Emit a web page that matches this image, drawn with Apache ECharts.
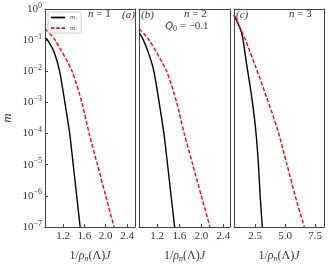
<!DOCTYPE html>
<html><head><meta charset="utf-8">
<script src="https://cdn.jsdelivr.net/npm/echarts@6/dist/echarts.min.js"></script>
<style>html,body{margin:0;padding:0;background:#fff}#c{width:330px;height:268px}</style>
</head><body><div id="c"></div>
<script>
// Panel (a) n=1
const blackA = [[0.865,0.12],[0.91,0.1],[1.03,0.042],[1.135,0.01],[1.233,1e-3],[1.324,1e-4],[1.39,1e-5],[1.455,1e-6],[1.52,1e-7]];
const redA   = [[0.865,0.23],[1.05,0.1],[1.368,0.01],[1.552,1e-3],[1.69,1e-4],[1.845,1e-5],[2.0,1e-6],[2.155,1e-7]];
// Panel (b) n=2
const blackB = [[0.875,0.17],[0.95,0.1],[1.05,0.035],[1.14,0.01],[1.235,1e-3],[1.322,1e-4],[1.388,1e-5],[1.452,1e-6],[1.516,1e-7]];
const redB   = [[0.875,0.23],[1.055,0.1],[1.37,0.01],[1.553,1e-3],[1.69,1e-4],[1.845,1e-5],[2.0,1e-6],[2.156,1e-7]];
// Panel (c) n=3
const blackC = [[0.75,0.65],[1.39,0.17],[1.81,0.016],[2.23,1.45e-3],[2.56,1.3e-4],[2.78,1.1e-5],[2.93,1e-6],[3.11,1e-7]];
const redC   = [[0.75,0.65],[1.67,0.11],[2.5,0.016],[3.47,1.45e-3],[4.39,1.3e-4],[5.14,1.1e-5],[5.85,1e-6],[6.61,1e-7]];

const xTicksAB = [1.2,1.6,2.0,2.4];
const xTicksC = [2.5,5.0,7.5];
const panelLabels = ['(a)','(b)','(c)'];
const legendNames = ['m+','m−'];

const SERIF = 'Liberation Serif, DejaVu Serif, serif';
const frame = '#444';
const chart = echarts.init(document.getElementById('c'), null, {renderer:'canvas'});

const grids = [
  {left:44, top:9, width:91, height:224},
  {left:139, top:9, width:91, height:224},
  {left:234, top:9, width:90, height:224}
];
function xAxis(i, min, max, ticks){
  return {
    type:'value', gridIndex:i, min:min, max:max,
    axisLine:{show:true,onZero:false,lineStyle:{color:frame,width:1}},
    axisTick:{show:true,inside:true,length:3,lineStyle:{color:frame},customValues:ticks},
    axisLabel:{fontFamily:SERIF,fontSize:11,color:'#333',margin:4,customValues:ticks,
      formatter:v=>v.toFixed(1)},
    splitLine:{show:false},
    name:'{a|1/}{i|ρ}{s|n}{a|(Λ)}{i|J}', nameLocation:'middle', nameGap:22,
    nameTextStyle:{rich:{
      a:{fontFamily:SERIF,fontSize:12,color:'#333'},
      i:{fontFamily:SERIF,fontSize:12,fontStyle:'italic',color:'#333'},
      s:{fontFamily:SERIF,fontSize:8,fontStyle:'italic',color:'#333',padding:[6,0,0,0]}
    }}
  };
}
const supMap = {'0':'0','1':'−1','2':'−2','3':'−3','4':'−4','5':'−5','6':'−6','7':'−7'};
function yAxis(i, labels){
  return {
    type:'log', logBase:10, gridIndex:i, min:1e-7, max:1, interval:1,
    axisLine:{show:true,lineStyle:{color:frame,width:1}},
    axisTick:{show:labels,inside:true,length:3,lineStyle:{color:frame}},
    axisLabel:{show:labels, margin:3,
      formatter:function(v){const e=Math.round(-Math.log10(v));return '{b|10}{s|'+supMap[String(e)]+'}';},
      rich:{b:{fontFamily:SERIF,fontSize:11,color:'#333'},
            s:{fontFamily:SERIF,fontSize:8,color:'#333',padding:[0,0,7,0]}}},
    splitLine:{show:false},
    name: labels ? 'm' : '', nameLocation:'middle', nameGap:31, nameRotate:90,
    nameTextStyle:{fontFamily:SERIF,fontSize:13,fontStyle:'italic',color:'#333'}
  };
}
function topX(i,min,max){return {type:'value',gridIndex:i,min:min,max:max,position:'top',axisLine:{show:true,lineStyle:{color:frame}},axisTick:{show:false},axisLabel:{show:false},splitLine:{show:false}};}
function rightY(i){return {type:'log',gridIndex:i,min:1e-7,max:1,position:'right',axisLine:{show:true,lineStyle:{color:frame}},axisTick:{show:false},axisLabel:{show:false},splitLine:{show:false}};}

const xAxes = [
  xAxis(0,0.86,2.55,xTicksAB), xAxis(1,0.87,2.52,xTicksAB), xAxis(2,0.75,8.25,xTicksC),
  topX(0,0.86,2.55), topX(1,0.87,2.52), topX(2,0.75,8.25)
];
const yAxes = [yAxis(0,true), yAxis(1,false), yAxis(2,false), rightY(0), rightY(1), rightY(2)];

function line(name,data,i,color,dash){
  return {name:name,type:'line',xAxisIndex:i,yAxisIndex:i,data:data,smooth:0.25,
    symbol:'none',showSymbol:false,z:1,
    lineStyle:{color:color,width:1.4,type:dash?[4,2]:'solid'},itemStyle:{color:color},clip:true,silent:true};
}
const series = [
  line(legendNames[0],blackA,0,'#000',false), line(legendNames[1],redA,0,'#f00',true),
  line('b1',blackB,1,'#000',false), line('b2',redB,1,'#f00',true),
  line('c1',blackC,2,'#000',false), line('c2',redC,2,'#f00',true)
];

const txt = (x,y,t,style)=>({type:'text',left:x,top:y,style:Object.assign({text:t,font:'11px '+SERIF,fill:'#333'},style||{})});
const nStyle = {i:{fontFamily:SERIF,fontSize:11,fontStyle:'italic',fill:'#333'},r:{fontFamily:SERIF,fontSize:11,fill:'#333'}};
const graphics = [
  txt(122,10,panelLabels[0],{font:'italic 11px '+SERIF}),
  txt(141,10,panelLabels[1],{font:'italic 11px '+SERIF}),
  txt(236,10,panelLabels[2],{font:'italic 11px '+SERIF}),
  {type:'text',left:88,top:9,style:{rich:nStyle,text:'{i|n}{r| = 1}'}},
  {type:'text',left:184,top:9,style:{rich:nStyle,text:'{i|n}{r| = 2}'}},
  {type:'text',left:289,top:9,style:{rich:nStyle,text:'{i|n}{r| = 3}'}},
  {type:'text',left:165,top:21,style:{rich:{i:{fontFamily:SERIF,fontSize:11,fontStyle:'italic',fill:'#333'},s:{fontFamily:SERIF,fontSize:8,fill:'#333',padding:[5,0,0,0]},r:{fontFamily:SERIF,fontSize:11,fill:'#333'}},text:'{i|Q̄}{s|0}{r| = −0.1}'}}
];

const solidIcon = 'path://M0,0H16V2H0Z';
const dashIcon = 'path://M0,0H4V2H0Z M6,0H10V2H6Z M12,0H16V2H12Z';

chart.setOption({
  animation:false,
  grid:grids,
  xAxis:xAxes,
  yAxis:yAxes,
  legend:{show:true,left:48,top:12,orient:'vertical',itemWidth:14,itemHeight:2,itemGap:3,
    padding:[2,3,1,3],borderColor:'#ccc',borderWidth:1,borderRadius:2,backgroundColor:'#fff',
    data:[{name:legendNames[0],icon:solidIcon},{name:legendNames[1],icon:dashIcon}],
    formatter:n=>'{i|m}{s|'+n.slice(1)+'}',
    textStyle:{fontFamily:SERIF,fontSize:7,color:'#666',
      rich:{i:{fontFamily:SERIF,fontSize:7,color:'#666'},s:{fontFamily:SERIF,fontSize:5,color:'#666',padding:[3,0,0,0]}}}},
  series:series,
  graphic:graphics
});
</script></body></html>
